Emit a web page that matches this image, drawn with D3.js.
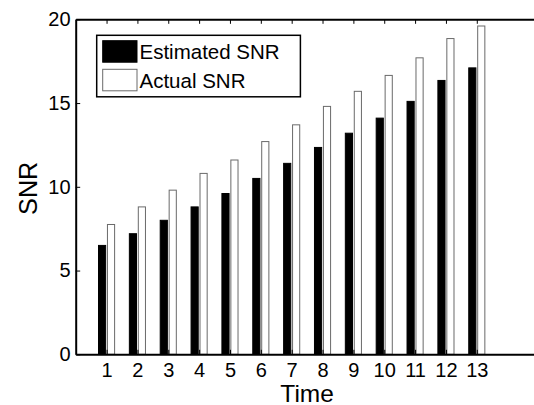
<!DOCTYPE html>
<html>
<head>
<meta charset="utf-8">
<script src="https://cdn.jsdelivr.net/npm/d3@7"></script>
<style>
  html, body { margin: 0; padding: 0; background: #fff; }
  svg { display: block; }
  text { font-family: "Liberation Sans", Arial, Helvetica, sans-serif; fill: #000; }
</style>
</head>
<body>
<svg id="chart" width="534" height="405"></svg>
<script>
// SNR over time: estimated vs. actual
const timeSteps = [1, 2, 3, 4, 5, 6, 7, 8, 9, 10, 11, 12, 13];
const estimatedSNR = [6.5, 7.2, 8.0, 8.8, 9.6, 10.5, 11.4, 12.35, 13.2, 14.1, 15.1, 16.35, 17.1];
const actualSNR = [7.75, 8.8, 9.8, 10.8, 11.6, 12.7, 13.7, 14.8, 15.7, 16.65, 17.7, 18.85, 19.6];
const yTicks = [0, 5, 10, 15, 20];
const seriesNames = ["Estimated SNR", "Actual SNR"];

const svg = d3.select("#chart");
const plotLeft = 75.7, plotRight = 538.5, plotTop = 19.3, plotBottom = 354.3;

const x = d3.scaleLinear().domain([0, 15]).range([plotLeft, plotRight]);
const y = d3.scaleLinear().domain([0, 20]).range([plotBottom, plotTop]);

// grouped bars: two series per time step
const barW = 0.232, offset = 0.145;
const series = [
  { name: seriesNames[0], values: estimatedSNR, dx: -offset, fill: "#000", stroke: "#000" },
  { name: seriesNames[1], values: actualSNR, dx: offset, fill: "#fff", stroke: "#6a6a6a" }
];

const bars = svg.append("g");
series.forEach(s => {
  bars.selectAll(null)
    .data(timeSteps.map((t, i) => ({ t, v: s.values[i] })))
    .join("rect")
    .attr("x", d => x(d.t + s.dx - barW / 2))
    .attr("width", d => x(d.t + s.dx + barW / 2) - x(d.t + s.dx - barW / 2))
    .attr("y", d => y(d.v))
    .attr("height", d => y(0) - y(d.v))
    .attr("fill", s.fill)
    .attr("stroke", s.stroke)
    .attr("stroke-width", 1);
});

// axes with inward ticks on all four sides
const tickLen = 4.5;
const styleAxis = g => {
  g.attr("font-family", null).attr("font-size", null);
  g.select(".domain").attr("stroke", "#000").attr("stroke-width", 2);
  g.selectAll(".tick line").attr("stroke", "#000").attr("stroke-width", 1);
  g.selectAll(".tick text").style("font-size", "20px").attr("fill", "#000");
};

svg.append("g")
  .attr("transform", `translate(0,${plotBottom})`)
  .call(d3.axisBottom(x).tickValues(timeSteps).tickSizeInner(-tickLen).tickSizeOuter(0).tickPadding(8.6).tickFormat(d3.format("d")))
  .call(styleAxis);

svg.append("g")
  .attr("transform", `translate(0,${plotTop})`)
  .call(d3.axisTop(x).tickValues(timeSteps).tickSizeInner(-tickLen).tickSizeOuter(0).tickFormat(""))
  .call(styleAxis);

svg.append("g")
  .attr("transform", `translate(${plotLeft},0)`)
  .call(d3.axisLeft(y).tickValues(yTicks).tickSizeInner(-tickLen).tickSizeOuter(0).tickPadding(5.2).tickFormat(d3.format("d")))
  .call(styleAxis);

svg.append("g")
  .attr("transform", `translate(${plotRight},0)`)
  .call(d3.axisRight(y).tickValues(yTicks).tickSizeInner(-tickLen).tickSizeOuter(0).tickFormat(""))
  .call(styleAxis);

// axis titles
svg.append("text")
  .attr("x", (plotLeft + plotRight) / 2)
  .attr("y", 402.3)
  .attr("text-anchor", "middle")
  .attr("textLength", 53.5)
  .attr("lengthAdjust", "spacingAndGlyphs")
  .style("font-size", "24px")
  .text("Time");

svg.append("text")
  .attr("transform", `translate(36.7,188.3) rotate(-90)`)
  .attr("text-anchor", "middle")
  .attr("textLength", 53.3)
  .attr("lengthAdjust", "spacingAndGlyphs")
  .style("font-size", "26px")
  .text("SNR");

// legend
const legend = svg.append("g");
legend.append("rect")
  .attr("x", 96.7).attr("y", 35.3)
  .attr("width", 203.7).attr("height", 61.5)
  .attr("fill", "#fff").attr("stroke", "#000").attr("stroke-width", 1.5);

series.forEach((s, i) => {
  const rowY = 40.7 + i * 28.6;
  legend.append("rect")
    .attr("x", 102.7).attr("y", rowY)
    .attr("width", 34.3).attr("height", 21.5)
    .attr("fill", s.fill).attr("stroke", s.stroke).attr("stroke-width", 1);
  legend.append("text")
    .attr("x", 139.5)
    .attr("y", rowY + 18.6)
    .style("font-size", "20.5px")
    .text(s.name);
});
</script>
</body>
</html>
